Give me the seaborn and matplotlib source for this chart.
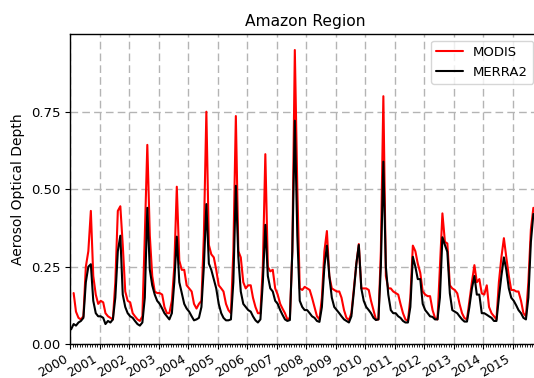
import numpy as np
import pandas as pd
import matplotlib
matplotlib.use("Agg")
import matplotlib.pyplot as plt
import matplotlib.dates as mdates
import seaborn as sns

nan = np.nan
# Monthly AOD values, Jan 2000 .. Sep 2015 (one row per year)
modis_aod = [
    nan, 0.165, 0.105, 0.085, 0.08, 0.09, 0.25, 0.30, 0.43, 0.22, 0.16, 0.13,        # 2000
    0.14, 0.135, 0.10, 0.09, 0.085, 0.08, 0.20, 0.43, 0.445, 0.32, 0.17, 0.14,        # 2001
    0.135, 0.10, 0.09, 0.08, 0.075, 0.09, 0.35, 0.643, 0.35, 0.22, 0.17, 0.165,       # 2002
    0.165, 0.16, 0.12, 0.10, 0.10, 0.14, 0.25, 0.508, 0.27, 0.24, 0.24, 0.19,         # 2003
    0.18, 0.17, 0.13, 0.115, 0.13, 0.14, 0.35, 0.75, 0.32, 0.29, 0.28, 0.24,          # 2004
    0.19, 0.18, 0.17, 0.13, 0.11, 0.10, 0.30, 0.736, 0.30, 0.28, 0.20, 0.18,          # 2005
    0.19, 0.19, 0.15, 0.12, 0.10, 0.10, 0.25, 0.613, 0.25, 0.235, 0.24, 0.18,         # 2006
    0.16, 0.13, 0.115, 0.10, 0.08, 0.085, 0.30, 0.949, 0.50, 0.18, 0.175, 0.185,      # 2007
    0.18, 0.175, 0.15, 0.12, 0.09, 0.08, 0.15, 0.30, 0.365, 0.22, 0.18, 0.175,        # 2008
    0.17, 0.17, 0.15, 0.11, 0.085, 0.078, 0.10, 0.18, 0.26, 0.323, 0.18, 0.18,        # 2009
    0.18, 0.175, 0.14, 0.11, 0.08, 0.08, 0.30, 0.80, 0.22, 0.18, 0.18, 0.17,          # 2010
    0.165, 0.16, 0.13, 0.10, 0.08, 0.075, 0.15, 0.318, 0.30, 0.26, 0.23, 0.17,        # 2011
    0.16, 0.155, 0.155, 0.11, 0.085, 0.08, 0.25, 0.422, 0.33, 0.325, 0.19, 0.18,      # 2012
    0.175, 0.164, 0.13, 0.10, 0.084, 0.08, 0.14, 0.20, 0.255, 0.20, 0.21, 0.164,      # 2013
    0.16, 0.19, 0.12, 0.10, 0.09, 0.08, 0.20, 0.28, 0.342, 0.28, 0.22, 0.175,         # 2014
    0.175, 0.17, 0.17, 0.14, 0.10, 0.09, 0.20, 0.37, 0.44,                            # 2015
]
merra2_aod = [
    0.048, 0.065, 0.06, 0.07, 0.075, 0.085, 0.20, 0.25, 0.258, 0.14, 0.10, 0.09,     # 2000
    0.09, 0.085, 0.065, 0.075, 0.07, 0.08, 0.15, 0.30, 0.35, 0.16, 0.12, 0.10,        # 2001
    0.09, 0.085, 0.075, 0.065, 0.06, 0.07, 0.15, 0.44, 0.24, 0.19, 0.16, 0.14,        # 2002
    0.13, 0.115, 0.10, 0.09, 0.08, 0.10, 0.20, 0.347, 0.20, 0.165, 0.13, 0.115,       # 2003
    0.105, 0.09, 0.077, 0.08, 0.085, 0.12, 0.25, 0.452, 0.26, 0.24, 0.21, 0.18,       # 2004
    0.13, 0.10, 0.085, 0.077, 0.077, 0.08, 0.20, 0.511, 0.28, 0.17, 0.13, 0.12,       # 2005
    0.11, 0.105, 0.09, 0.077, 0.07, 0.08, 0.20, 0.385, 0.22, 0.18, 0.17, 0.14,        # 2006
    0.13, 0.11, 0.095, 0.08, 0.075, 0.078, 0.30, 0.721, 0.35, 0.14, 0.12, 0.11,       # 2007
    0.11, 0.10, 0.09, 0.085, 0.075, 0.072, 0.12, 0.25, 0.318, 0.22, 0.15, 0.12,       # 2008
    0.11, 0.10, 0.09, 0.08, 0.075, 0.07, 0.09, 0.17, 0.26, 0.32, 0.18, 0.14,          # 2009
    0.12, 0.11, 0.10, 0.085, 0.078, 0.08, 0.25, 0.589, 0.25, 0.16, 0.11, 0.10,        # 2010
    0.10, 0.09, 0.085, 0.075, 0.07, 0.07, 0.12, 0.282, 0.25, 0.21, 0.21, 0.13,        # 2011
    0.11, 0.10, 0.09, 0.088, 0.08, 0.08, 0.15, 0.345, 0.32, 0.298, 0.164, 0.11,       # 2012
    0.105, 0.10, 0.09, 0.08, 0.073, 0.073, 0.12, 0.18, 0.22, 0.16, 0.16, 0.10,        # 2013
    0.10, 0.095, 0.09, 0.085, 0.075, 0.075, 0.15, 0.22, 0.28, 0.24, 0.18, 0.15,       # 2014
    0.14, 0.125, 0.11, 0.10, 0.085, 0.08, 0.15, 0.33, 0.42,                           # 2015
]
series_names = ["MODIS", "MERRA2"]
series_colors = ["red", "black"]
y_ticks = [0.0, 0.25, 0.50, 0.75]

n = len(merra2_aod)
dates = pd.date_range("2000-01-01", periods=n, freq="MS") + pd.Timedelta(days=14)
df = pd.DataFrame({
    "date": np.concatenate([dates.values, dates.values]),
    "aod": modis_aod + merra2_aod,
    "source": [series_names[0]] * n + [series_names[1]] * n,
})
df = df.dropna()

sns.set_style("ticks", {"axes.edgecolor": "black", "xtick.color": "black",
                        "ytick.color": "black", "text.color": "black",
                        "axes.labelcolor": "black"})
plt.rcParams["font.family"] = ["DejaVu Sans"]

fig = plt.figure(figsize=(5.34, 3.78), dpi=100)
ax = fig.add_axes([70 / 534, 33.8 / 378, 470 / 534, 310 / 378])

sns.lineplot(data=df, x="date", y="aod", hue="source", hue_order=series_names,
             palette=dict(zip(series_names, series_colors)), linewidth=1.5,
             estimator=None, ax=ax)

ax.set_xlim(pd.Timestamp("2000-01-01"), pd.Timestamp("2015-12-06"))
ax.set_ylim(0, 1.0)
ax.set_yticks(y_ticks)
ax.yaxis.set_major_formatter(matplotlib.ticker.FormatStrFormatter("%.2f"))
ax.xaxis.set_major_locator(mdates.YearLocator())
ax.xaxis.set_major_formatter(mdates.DateFormatter("%Y"))
ax.xaxis.set_minor_locator(mdates.MonthLocator())
ax.tick_params(axis="y", which="major", labelsize=9.5, length=3.5, width=0.8, pad=3.5)
ax.tick_params(axis="x", which="major", labelsize=9, length=3.5, width=0.8, pad=2.5)
ax.tick_params(axis="x", which="minor", length=2, width=0.6)
for lbl in ax.get_xticklabels():
    lbl.set_rotation(30)
    lbl.set_ha("right")

ax.grid(True, which="major", linestyle=(0, (5.5, 3)), color="#b4b4b4", linewidth=1.0)
ax.set_axisbelow(True)
for s in ax.spines.values():
    s.set_linewidth(1.0)

ax.set_xlabel("")
ax.set_ylabel("Aerosol Optical Depth", fontsize=10)
ax.set_title("Amazon Region", fontsize=11.2, pad=6)

handles, labels = ax.get_legend_handles_labels()
ax.legend(handles, labels, loc="upper right", fontsize=9.5, frameon=True)

fig.savefig("out.png", dpi=100)
